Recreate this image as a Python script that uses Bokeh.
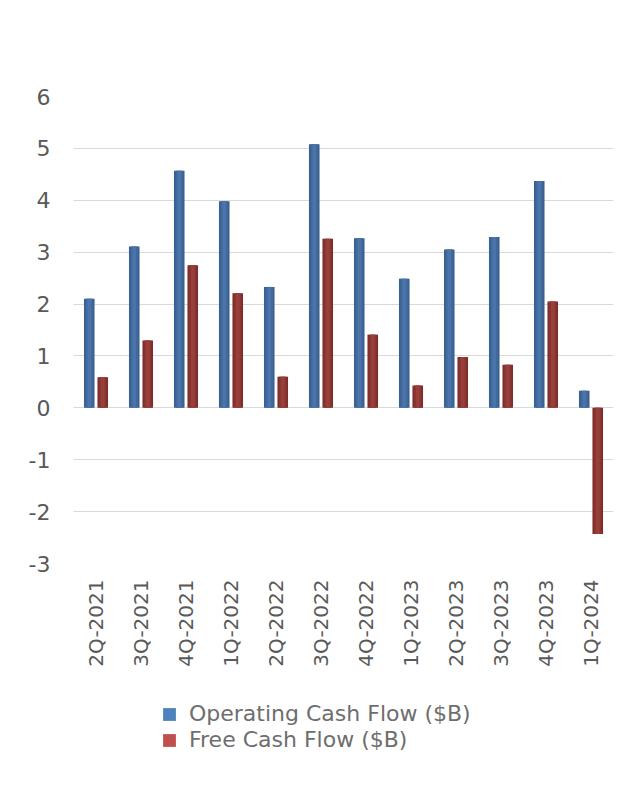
import math
from bokeh.plotting import figure
from bokeh.layouts import column
from bokeh.models import (ColumnDataSource, FactorRange, Range1d, FixedTicker,
                          Legend, LegendItem, PrintfTickFormatter)
from bokeh.transform import dodge
from bokeh.embed import file_html
from bokeh.resources import INLINE

# ---- data ----
quarters = ["2Q-2021", "3Q-2021", "4Q-2021", "1Q-2022", "2Q-2022", "3Q-2022",
            "4Q-2022", "1Q-2023", "2Q-2023", "3Q-2023", "4Q-2023", "1Q-2024"]
operating_cf = [2.10, 3.11, 4.57, 3.98, 2.33, 5.08, 3.27, 2.49, 3.05, 3.29, 4.37, 0.33]
free_cf = [0.59, 1.30, 2.75, 2.21, 0.60, 3.26, 1.41, 0.43, 0.98, 0.83, 2.05, -2.43]
y_ticks = [-3, -2, -1, 0, 1, 2, 3, 4, 5, 6]
series_names = ["Operating Cash Flow ($B)", "Free Cash Flow ($B)"]

FONT = "DejaVu Sans"
W = 633

source = ColumnDataSource(data=dict(q=quarters, ocf=operating_cf, fcf=free_cf))

p = figure(width=W, height=693, output_backend="svg", toolbar_location=None,
           x_range=FactorRange(factors=quarters), y_range=Range1d(-3, 6),
           min_border_left=73, min_border_right=20, min_border_top=96,
           min_border_bottom=130)
p.outline_line_color = None
p.background_fill_color = "white"
p.border_fill_color = "white"

# bars with a cylindrical shading (dark edge, lighter core)
blue_shades = [("#3A6092", 0.235), ("#42699D", 0.16), ("#4A74AA", 0.08)]
red_shades = [("#7D2D2A", 0.235), ("#8B3633", 0.16), ("#993F3A", 0.08)]
for color, w in blue_shades:
    p.vbar(x=dodge("q", -0.15, range=p.x_range), top="ocf", bottom=0, width=w,
           source=source, fill_color=color, line_color=None)
for color, w in red_shades:
    p.vbar(x=dodge("q", 0.15, range=p.x_range), top="fcf", bottom=0, width=w,
           source=source, fill_color=color, line_color=None)

# axes
p.yaxis.ticker = FixedTicker(ticks=y_ticks)
p.yaxis.formatter = PrintfTickFormatter(format="%d")
p.yaxis.axis_line_color = None
p.yaxis.major_tick_line_color = None
p.yaxis.minor_tick_line_color = None
p.yaxis.major_label_standoff = 17
p.yaxis.major_label_text_font = FONT
p.yaxis.major_label_text_font_size = "22px"
p.yaxis.major_label_text_color = "#595959"

p.xaxis.axis_line_color = None
p.xaxis.major_tick_line_color = None
p.xaxis.major_label_orientation = math.pi / 2
p.xaxis.major_label_standoff = 10
p.xaxis.major_label_text_font = FONT
p.xaxis.major_label_text_font_size = "20px"
p.xaxis.major_label_text_color = "#595959"

p.xgrid.grid_line_color = None
p.ygrid.grid_line_color = "#D9D9D9"
p.ygrid.grid_line_width = 1

# ---- legend in its own strip below the chart ----
lg = figure(width=W, height=99, output_backend="svg", toolbar_location=None,
            x_range=Range1d(0, 1), y_range=Range1d(0, 1),
            min_border_left=0, min_border_right=0, min_border_top=0,
            min_border_bottom=0)
lg.axis.visible = False
lg.grid.visible = False
lg.outline_line_color = None
lg.border_fill_color = "white"

# swatch renderers: their single bar lies outside the visible range
swatch = ColumnDataSource(data=dict(x=[5], v=[5]))
r_leg1 = lg.vbar(x="x", top="v", bottom=4, width=0.2, source=swatch,
                 fill_color="#4F81BD", line_color=None)
r_leg2 = lg.vbar(x="x", top="v", bottom=4, width=0.2, source=swatch,
                 fill_color="#C0504D", line_color=None)

legend = Legend(items=[LegendItem(label=series_names[0], renderers=[r_leg1]),
                       LegendItem(label=series_names[1], renderers=[r_leg2])],
                location=(88, 40), orientation="vertical",
                glyph_width=16, glyph_height=16, label_standoff=12,
                label_text_font=FONT, label_text_font_size="22px",
                label_text_color="#6E6E6E", label_height=24, spacing=1,
                padding=0, margin=0, border_line_alpha=0,
                background_fill_alpha=0)
lg.add_layout(legend, "center")

layout = column(p, lg, spacing=0)
open("out.html", "w").write(file_html(layout, INLINE))
